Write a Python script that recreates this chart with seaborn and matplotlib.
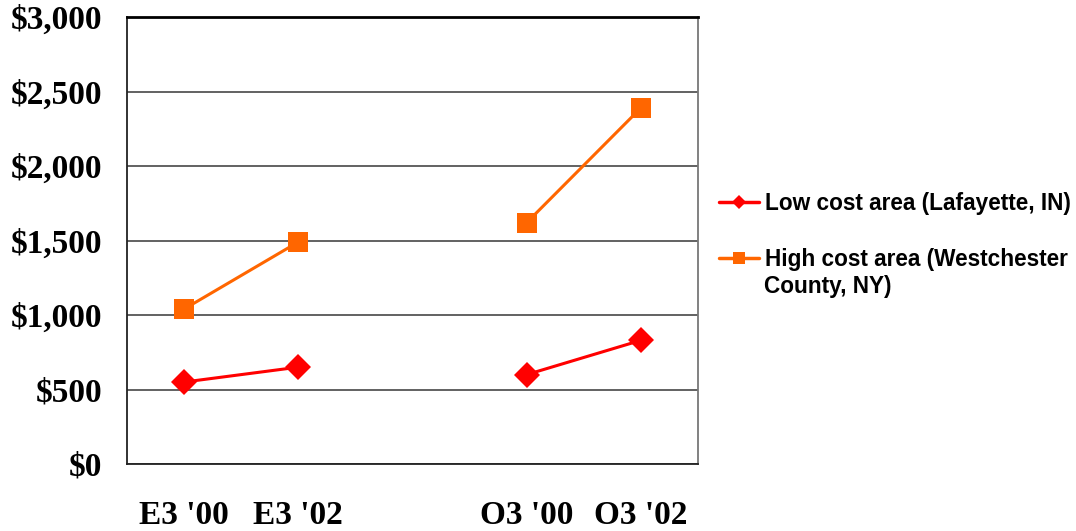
import numpy as np
import pandas as pd
import matplotlib
matplotlib.use("Agg")
import matplotlib.pyplot as plt
import seaborn as sns
from matplotlib import font_manager

# Data
categories = ["E3 '00", "E3 '02", "", "O3 '00", "O3 '02"]
low_cost = [550, 650, np.nan, 600, 830]
high_cost = [1040, 1490, np.nan, 1620, 2390]
segment = ["E3", "E3", "gap", "O3", "O3"]
low_label = "Low cost area (Lafayette, IN)"
high_label = "High cost area (Westchester\nCounty, NY)"
y_ticks = [0, 500, 1000, 1500, 2000, 2500, 3000]

rows = []
for name, vals in [(low_label, low_cost), (high_label, high_cost)]:
    for i, v in enumerate(vals):
        if not np.isnan(v):
            rows.append({"pos": i, "value": v, "series": name, "seg": segment[i]})
df = pd.DataFrame(rows)

sns.set_style("white")
plt.rcParams["font.family"] = ["Liberation Serif", "DejaVu Serif"]
plt.rcParams["text.color"] = "black"
plt.rcParams["xtick.color"] = "black"
plt.rcParams["ytick.color"] = "black"

serif_bold = font_manager.FontProperties(family="Liberation Serif", weight="bold", size=24)
sans_bold = font_manager.FontProperties(family="Liberation Sans", weight="bold", size=16.3)

fig = plt.figure(figsize=(10.76, 5.31), dpi=100)
ax = fig.add_axes([127 / 1076, 1 - 464 / 531, (698 - 127) / 1076, (464 - 17) / 531])

palette = {low_label: "#ff0000", high_label: "#ff6600"}
markers = {low_label: "D", high_label: "s"}
sns.lineplot(data=df, x="pos", y="value", hue="series", style="series",
             units="seg", estimator=None, palette=palette, markers=markers,
             dashes=False, linewidth=2.2, markeredgewidth=0, ax=ax)

for line in ax.get_lines():
    if line.get_marker() == "D":
        line.set_markersize(13)
    elif line.get_marker() == "s":
        line.set_markersize(14.5)

ax.set_xlim(-0.5, 4.5)
ax.set_ylim(0, 3000)
ax.set_yticks(y_ticks)
ax.set_yticklabels([f"${v:,}" for v in y_ticks])
ax.yaxis.grid(True, color="#555555", linewidth=1.3)
ax.set_axisbelow(True)

ax.set_xticks(range(len(categories)))
ax.set_xticklabels(categories)
ax.set_xticks(np.arange(-0.5, 5, 1), minor=True)
for lab in ax.get_xticklabels() + ax.get_yticklabels():
    lab.set_fontproperties(serif_bold)
    lab.set_color("black")
ax.tick_params(axis="x", which="major", length=0, pad=26)
ax.tick_params(axis="x", which="minor", length=8, width=1.2, color="#333333", direction="out")
ax.tick_params(axis="y", which="major", length=8, width=1.2, color="#333333", direction="out", pad=10)
ax.set_xlabel("")
ax.set_ylabel("")

for side in ["left", "bottom"]:
    ax.spines[side].set_color("#222222")
    ax.spines[side].set_linewidth(1.3)
ax.spines["right"].set_color("#777777")
ax.spines["right"].set_linewidth(1.3)
ax.spines["top"].set_color("#000000")
ax.spines["top"].set_linewidth(2)

# legend: handle lines up with the first line of each label
handles, labels = ax.get_legend_handles_labels()
ax.legend_.remove()
for h in handles:
    if h.get_marker() == "D":
        h.set_markersize(7.5)
    else:
        h.set_markersize(8.5)
    h.set_linewidth(2.5)
first_lines = [lab.split("\n")[0] for lab in labels]
leg = fig.legend(handles, first_lines, loc="upper left", bbox_to_anchor=(699 / 1076, 1 - 172 / 531),
                 frameon=False, handlelength=1.73, handletextpad=0.27, labelspacing=1.44,
                 prop=sans_bold)
for t in leg.get_texts():
    t.set_color("black")
for lab in labels:
    extra = lab.split("\n")[1:]
    if extra:
        fig.text(764 / 1076, 1 - 286 / 531, "\n".join(extra), fontproperties=sans_bold,
                 color="black", va="center", ha="left")

fig.savefig("out.png", dpi=100)
